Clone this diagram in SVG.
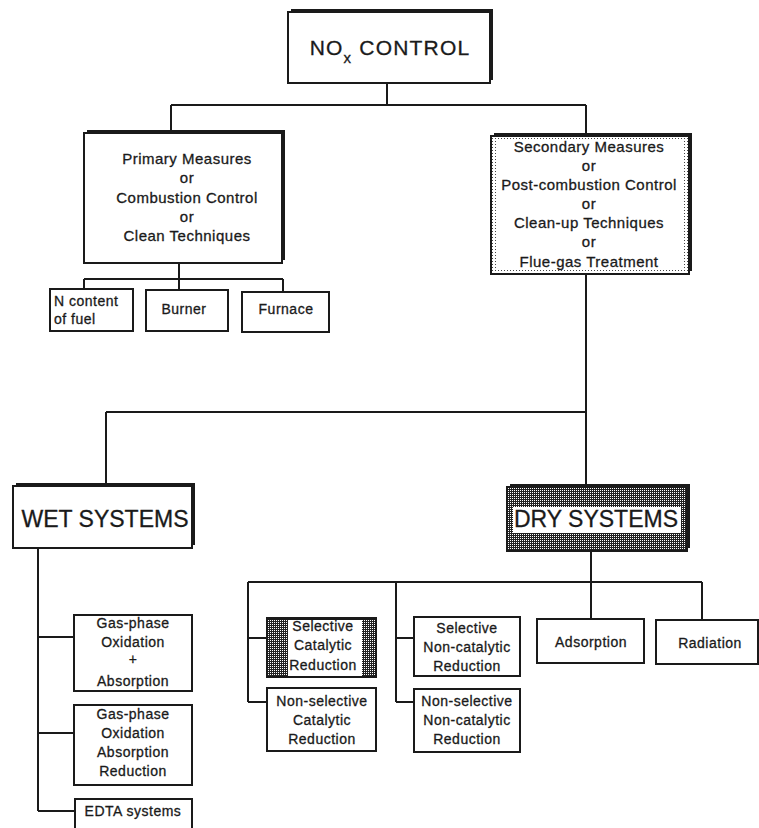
<svg xmlns="http://www.w3.org/2000/svg" width="759" height="828" viewBox="0 0 759 828">
<defs>
<pattern id="dither" width="2" height="2" patternUnits="userSpaceOnUse">
<rect width="2" height="2" fill="#222"/>
<rect width="1" height="1" fill="#fff"/>
</pattern>
<pattern id="dots" width="3" height="3" patternUnits="userSpaceOnUse">
<rect width="3" height="3" fill="#fff"/>
<rect width="1" height="1" fill="#444"/>
</pattern>
</defs>
<style>
.box{fill:#fff;stroke:#1a1a1a;stroke-width:2}
.sh{fill:#1a1a1a}
.ln{fill:none;stroke:#1a1a1a;stroke-width:2}
text{font-family:"Liberation Sans",Arial,sans-serif;fill:#1a1a1a;stroke:#1a1a1a;stroke-width:0.3;text-anchor:middle}
.t15{font-size:15px;letter-spacing:0.5px}
.t14{font-size:14px;letter-spacing:0.5px}
.big{font-size:23px}
</style>
<rect width="759" height="828" fill="#fff"/>
<g id="connectors">
<path class="ln" d="M387 83V105M171 105H586M171 105V133M586 105V136"/>
<path class="ln" d="M179 263V279M84 279H283M84 279V289M179 279V290M283 279V292"/>
<path class="ln" d="M586 274V412M106 412H586M106 412V486M586 412V487"/>
<path class="ln" d="M38 548V811M38 637H74M38 733H74M38 811H75"/>
<path class="ln" d="M591 551V619M248 582H702M702 582V620M248 582V702M248 638H267M248 702H267M396 582V702M396 638H414M396 702H414"/>
</g>
<g id="nox">
<rect class="sh" x="291" y="9" width="202" height="71"/>
<rect class="box" x="288" y="12" width="202" height="71"/>
<text x="390" y="55" style="font-size:21px;letter-spacing:1.2px">NO<tspan dy="8" style="font-size:15px">x</tspan><tspan dy="-8"> CONTROL</tspan></text>
</g>
<g id="primary">
<rect class="sh" x="87" y="130" width="198" height="130"/>
<rect class="box" x="84" y="133" width="198" height="130"/>
<text class="t15" x="187" y="164">Primary Measures</text>
<text class="t15" x="187" y="183">or</text>
<text class="t15" x="187" y="203">Combustion Control</text>
<text class="t15" x="187" y="222">or</text>
<text class="t15" x="187" y="241">Clean Techniques</text>
</g>
<g id="secondary">
<rect class="sh" x="494" y="133" width="198" height="138"/>
<rect class="box" x="491" y="136" width="198" height="138"/>
<rect x="494" y="139" width="192" height="132" fill="none" stroke="url(#dots)" stroke-width="4"/>
<text class="t15" x="589" y="152">Secondary Measures</text>
<text class="t15" x="589" y="171">or</text>
<text class="t15" x="589" y="190">Post-combustion Control</text>
<text class="t15" x="589" y="209">or</text>
<text class="t15" x="589" y="228">Clean-up Techniques</text>
<text class="t15" x="589" y="247">or</text>
<text class="t15" x="589" y="267">Flue-gas Treatment</text>
</g>
<g id="ncontent">
<rect class="box" x="50" y="289" width="83" height="42"/>
<text class="t14" x="54" y="306" style="text-anchor:start">N content</text>
<text class="t14" x="54" y="324" style="text-anchor:start">of fuel</text>
</g>
<g id="burner">
<rect class="box" x="146" y="290" width="82" height="41"/>
<text class="t14" x="184" y="314">Burner</text>
</g>
<g id="furnace">
<rect class="box" x="242" y="292" width="87" height="40"/>
<text class="t14" x="286" y="314">Furnace</text>
</g>
<g id="wet">
<rect class="sh" x="16" y="483" width="179" height="62"/>
<rect class="box" x="13" y="486" width="179" height="62"/>
<text class="big" x="105" y="527">WET SYSTEMS</text>
</g>
<g id="dry">
<rect class="sh" x="510" y="484" width="180" height="64"/>
<rect x="507" y="487" width="180" height="64" fill="url(#dither)" stroke="#1a1a1a" stroke-width="2"/>
<rect x="513" y="507" width="168" height="26" fill="#fff"/>
<text class="big" x="596" y="527">DRY SYSTEMS</text>
</g>
<g id="gas1">
<rect class="box" x="74" y="615" width="118" height="76"/>
<text class="t14" x="133" y="628">Gas-phase</text>
<text class="t14" x="133" y="647">Oxidation</text>
<text class="t14" x="133" y="664">+</text>
<text class="t14" x="133" y="686">Absorption</text>
</g>
<g id="gas2">
<rect class="box" x="74" y="705" width="118" height="80"/>
<text class="t14" x="133" y="719">Gas-phase</text>
<text class="t14" x="133" y="738">Oxidation</text>
<text class="t14" x="133" y="757">Absorption</text>
<text class="t14" x="133" y="776">Reduction</text>
</g>
<g id="edta">
<rect class="box" x="75" y="799" width="117" height="40"/>
<text class="t14" x="133" y="816">EDTA systems</text>
</g>
<g id="scr">
<rect x="267" y="618" width="109" height="59" fill="url(#dither)" stroke="#1a1a1a" stroke-width="2"/>
<rect x="267" y="617" width="109" height="3" class="sh"/>
<rect x="288" y="620" width="74" height="56" fill="#fff"/>
<text class="t14" x="323" y="631">Selective</text>
<text class="t14" x="323" y="650">Catalytic</text>
<text class="t14" x="323" y="670">Reduction</text>
</g>
<g id="nscr">
<rect class="box" x="267" y="688" width="109" height="63"/>
<text class="t14" x="322" y="706">Non-selective</text>
<text class="t14" x="322" y="725">Catalytic</text>
<text class="t14" x="322" y="744">Reduction</text>
</g>
<g id="sncr">
<rect class="box" x="414" y="617" width="106" height="59"/>
<text class="t14" x="467" y="633">Selective</text>
<text class="t14" x="467" y="652">Non-catalytic</text>
<text class="t14" x="467" y="671">Reduction</text>
</g>
<g id="nsncr">
<rect class="box" x="414" y="689" width="106" height="63"/>
<text class="t14" x="467" y="706">Non-selective</text>
<text class="t14" x="467" y="725">Non-catalytic</text>
<text class="t14" x="467" y="744">Reduction</text>
</g>
<g id="adsorption">
<rect class="box" x="537" y="619" width="107" height="44"/>
<text class="t14" x="591" y="647">Adsorption</text>
</g>
<g id="radiation">
<rect class="box" x="656" y="620" width="102" height="44"/>
<text class="t14" x="710" y="648">Radiation</text>
</g>
</svg>
